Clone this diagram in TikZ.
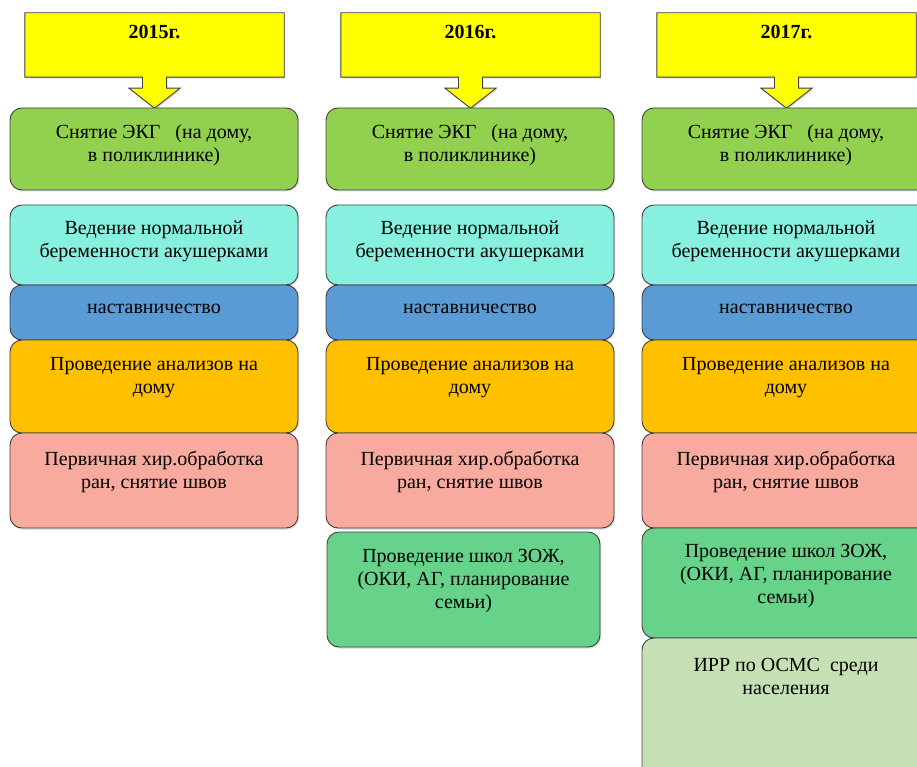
\documentclass[tikz,border=0pt]{standalone}
\usepackage{fontspec}
\setmainfont{Liberation Serif}
\usetikzlibrary{shadows,backgrounds}

\definecolor{header}{HTML}{FFFF00}
\definecolor{ekggreen}{HTML}{92D050}
\definecolor{mint}{HTML}{88F0DF}
\definecolor{mentor}{HTML}{5B9BD5}
\definecolor{amber}{HTML}{FFC000}
\definecolor{salmon}{HTML}{F9AA9E}
\definecolor{school}{HTML}{66D28A}
\definecolor{pale}{HTML}{C5E0B4}
\definecolor{edge}{HTML}{404040}

% yellow year box with its down arrow
\newcommand\yeararrow[1]{%
  \begin{scope}[on background layer]
  \filldraw[callout] (#1.north west) -- (#1.north east) -- (#1.south east)
    -- ([xshift=12pt]#1.south) -- ([xshift=12pt,yshift=-11pt]#1.south)
    -- ([xshift=25.5pt,yshift=-11pt]#1.south) -- ([yshift=-31pt]#1.south)
    -- ([xshift=-25.5pt,yshift=-11pt]#1.south) -- ([xshift=-12pt,yshift=-11pt]#1.south)
    -- ([xshift=-12pt]#1.south) -- (#1.south west) -- cycle;
  \end{scope}}

\begin{document}
\begin{tikzpicture}[x=1pt,y=-1pt,
  box/.style={draw=edge, line width=0.9pt, rounded corners=12pt, minimum width=288pt, inner sep=0pt,
    drop shadow={shadow xshift=1pt, shadow yshift=-1.5pt, opacity=0.3}},
  boxtext/.style={anchor=north, inner sep=0pt, align=center, font=\fontsize{20}{23}\selectfont,
    execute at begin node=\strut},
  yearbox/.style={inner sep=0pt, minimum width=259pt, text height=26pt, text depth=38pt,
    font=\fontsize{20}{23}\selectfont\bfseries},
  callout/.style={draw=edge, line width=0.9pt, fill=header,
    drop shadow={shadow xshift=1pt, shadow yshift=-1.5pt, opacity=0.3}}]
\useasboundingbox (0,0) rectangle (917,767);

% 2015
\node[yearbox] (y15) at (154.5,45) {2015г.};
\yeararrow{y15}
\node[box, fill=ekggreen, minimum height=82pt] (ekg15) at (154,149) {};
\node[boxtext] (ekg15t) at ([yshift=-17pt]ekg15.north) {Снятие ЭКГ\ \ \ (на дому,\\в поликлинике)};
\node[box, fill=mint, minimum height=80pt] (preg15) at (154,245) {};
\node[boxtext] (preg15t) at ([yshift=-16.5pt]preg15.north) {Ведение нормальной\\беременности акушерками};
\node[box, fill=mentor, minimum height=55pt] (ment15) at (154,312.5) {};
\node[boxtext] (ment15t) at ([yshift=-13pt]ment15.north) {наставничество};
\node[box, fill=amber, minimum height=93pt] (test15) at (154,386.5) {};
\node[boxtext] (test15t) at ([yshift=-18pt]test15.north) {Проведение анализов на\\дому};
\node[box, fill=salmon, minimum height=95pt] (surg15) at (154,480.5) {};
\node[boxtext] (surg15t) at ([yshift=-18.5pt]surg15.north) {Первичная хир.обработка\\ран, снятие швов};

% 2016
\node[yearbox] (y16) at (470.5,45) {2016г.};
\yeararrow{y16}
\node[box, fill=ekggreen, minimum height=82pt] (ekg16) at (470,149) {};
\node[boxtext] (ekg16t) at ([yshift=-17pt]ekg16.north) {Снятие ЭКГ\ \ \ (на дому,\\в поликлинике)};
\node[box, fill=mint, minimum height=80pt] (preg16) at (470,245) {};
\node[boxtext] (preg16t) at ([yshift=-16.5pt]preg16.north) {Ведение нормальной\\беременности акушерками};
\node[box, fill=mentor, minimum height=55pt] (ment16) at (470,312.5) {};
\node[boxtext] (ment16t) at ([yshift=-13pt]ment16.north) {наставничество};
\node[box, fill=amber, minimum height=93pt] (test16) at (470,386.5) {};
\node[boxtext] (test16t) at ([yshift=-18pt]test16.north) {Проведение анализов на\\дому};
\node[box, fill=salmon, minimum height=95pt] (surg16) at (470,480.5) {};
\node[boxtext] (surg16t) at ([yshift=-18.5pt]surg16.north) {Первичная хир.обработка\\ран, снятие швов};
\node[box, fill=school, minimum height=115pt, minimum width=273pt] (zozh16) at (463.5,589.5) {};
\node[boxtext] (zozh16t) at ([yshift=-17pt]zozh16.north) {Проведение школ ЗОЖ,\\(ОКИ, АГ, планирование\\семьи)};

% 2017
\node[yearbox] (y17) at (786.5,45) {2017г.};
\yeararrow{y17}
\node[box, fill=ekggreen, minimum height=82pt] (ekg17) at (786,149) {};
\node[boxtext] (ekg17t) at ([yshift=-17pt]ekg17.north) {Снятие ЭКГ\ \ \ (на дому,\\в поликлинике)};
\node[box, fill=mint, minimum height=80pt] (preg17) at (786,245) {};
\node[boxtext] (preg17t) at ([yshift=-16.5pt]preg17.north) {Ведение нормальной\\беременности акушерками};
\node[box, fill=mentor, minimum height=55pt] (ment17) at (786,312.5) {};
\node[boxtext] (ment17t) at ([yshift=-13pt]ment17.north) {наставничество};
\node[box, fill=amber, minimum height=93pt] (test17) at (786,386.5) {};
\node[boxtext] (test17t) at ([yshift=-18pt]test17.north) {Проведение анализов на\\дому};
\node[box, fill=salmon, minimum height=95pt] (surg17) at (786,480.5) {};
\node[boxtext] (surg17t) at ([yshift=-18.5pt]surg17.north) {Первичная хир.обработка\\ран, снятие швов};
\node[box, fill=school, minimum height=110pt] (zozh17) at (786,583) {};
\node[boxtext] (zozh17t) at ([yshift=-16pt]zozh17.north) {Проведение школ ЗОЖ,\\(ОКИ, АГ, планирование\\семьи)};
\node[box, fill=pale, minimum height=152pt] (irr17) at (786,714) {};
\node[boxtext] (irr17t) at ([yshift=-20.5pt]irr17.north) {ИРР по ОСМС\ \ среди\\населения};
\end{tikzpicture}
\end{document}
